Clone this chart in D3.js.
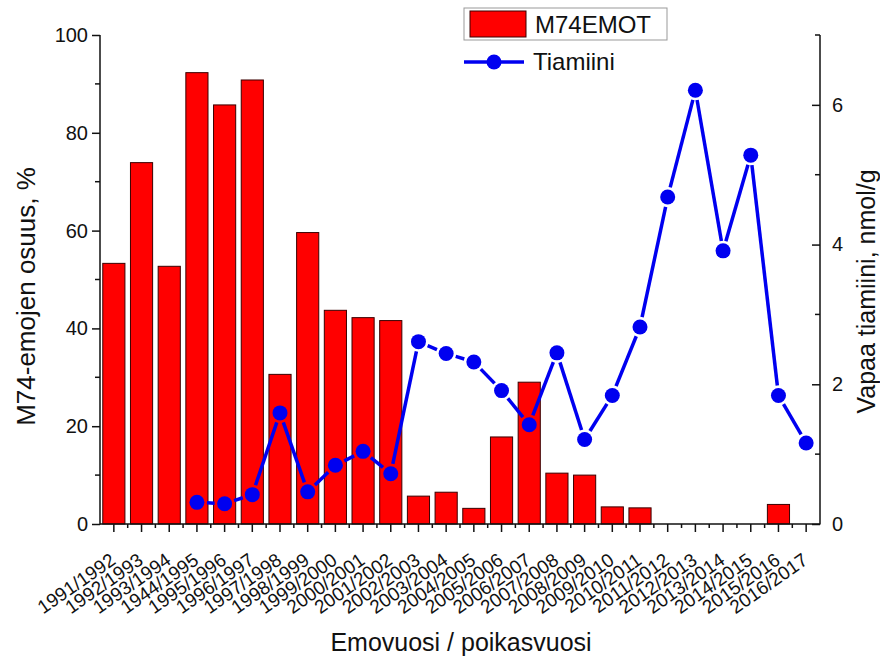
<!DOCTYPE html>
<html>
<head>
<meta charset="utf-8">
<script src="https://cdn.jsdelivr.net/npm/d3@7/dist/d3.min.js"></script>
<style>
  body { margin: 0; background: #fff; }
  svg { font-family: "Liberation Sans", Arial, sans-serif; }
</style>
</head>
<body>
<div id="chart"></div>
<script>
// data
const years = ["1991/1992", "1992/1993", "1993/1994", "1944/1995", "1995/1996", "1996/1997",
    "1997/1998", "1998/1999", "1999/2000", "2000/2001", "2001/2002", "2002/2003", "2003/2004",
    "2004/2005", "2005/2006", "2006/2007", "2007/2008", "2008/2009", "2009/2010", "2010/2011",
    "2011/2012", "2012/2013", "2013/2014", "2014/2015", "2015/2016", "2016/2017"];

// M74-emojen osuus, % (null = no bar)
const m74 = [53.3, 73.9, 52.7, 92.3, 85.7, 90.8, 30.6, 59.6, 43.7, 42.2, 41.6, 5.7, 6.5,
    3.2, 17.8, 29.0, 10.4, 10.0, 3.5, 3.3, null, null, null, null, 4.0, null];

// Vapaa tiamiini, nmol/g
const tiamiini = [null, null, null, 0.31, 0.29, 0.42, 1.59, 0.46, 0.84, 1.04, 0.72, 2.61, 2.44,
    2.32, 1.91, 1.42, 2.45, 1.21, 1.84, 2.82, 4.68, 6.21, 3.91, 5.28, 1.84, 1.16];

const leftTicks = [0, 20, 40, 60, 80, 100];
const rightTicks = [0, 2, 4, 6];

const width = 880, height = 657;
const margin = { top: 35, right: 60, bottom: 133, left: 100 };
const innerW = width - margin.left - margin.right;
const innerH = height - margin.top - margin.bottom;

const svg = d3.select("#chart")
    .append("svg")
    .attr("width", width)
    .attr("height", height);

const g = svg.append("g")
    .attr("transform", `translate(${margin.left},${margin.top})`);

const x = d3.scaleBand()
    .domain(years)
    .range([0, innerW])
    .paddingInner(0.2)
    .paddingOuter(0.1);

const xc = d => x(d) + x.bandwidth() / 2;
const step = x.step();

const yL = d3.scaleLinear().domain([0, 100]).range([innerH, 0]);
const yR = d3.scaleLinear().domain([0, 7]).range([innerH, 0]);

// bars
g.append("g")
    .selectAll("rect")
    .data(years.map((yr, i) => ({ yr, v: m74[i] })).filter(d => d.v != null))
    .join("rect")
    .attr("x", d => x(d.yr))
    .attr("y", d => yL(d.v))
    .attr("width", x.bandwidth())
    .attr("height", d => innerH - yL(d.v))
    .attr("fill", "#ff0000")
    .attr("stroke", "#3a0000")
    .attr("stroke-width", 1);

// left axis
const leftAxis = g.append("g")
    .call(d3.axisLeft(yL).tickValues(leftTicks).tickSize(8).tickPadding(4))
    .call(a => a.select(".domain").attr("d", `M0,${innerH + 0.5}V0`));
leftAxis.selectAll("text").attr("font-size", 20).attr("fill", "#111");
leftAxis.selectAll("line, path").attr("stroke", "#111").attr("stroke-width", 1.5);
g.append("g")
    .selectAll("line")
    .data(d3.range(10, 100, 20))
    .join("line")
    .attr("x1", -5).attr("x2", 0)
    .attr("y1", d => yL(d)).attr("y2", d => yL(d))
    .attr("stroke", "#111").attr("stroke-width", 1.5);

// right axis
const rightAxis = g.append("g")
    .attr("transform", `translate(${innerW},0)`)
    .call(d3.axisRight(yR).tickValues(rightTicks).tickFormat(d3.format("d")).tickSize(-8).tickPadding(12))
    .call(a => a.select(".domain").attr("d", `M0,${innerH + 0.5}V0`));
rightAxis.selectAll("text").attr("font-size", 20).attr("fill", "#111");
rightAxis.selectAll("line, path").attr("stroke", "#111").attr("stroke-width", 1.5);
g.append("g")
    .attr("transform", `translate(${innerW},0)`)
    .selectAll("line")
    .data([1, 3, 5, 7])
    .join("line")
    .attr("x1", -5).attr("x2", 0)
    .attr("y1", d => yR(d)).attr("y2", d => yR(d))
    .attr("stroke", "#111").attr("stroke-width", 1.5);

// bottom axis
const bottomAxis = g.append("g")
    .attr("transform", `translate(0,${innerH})`)
    .call(d3.axisBottom(x).tickSize(8).tickPadding(4))
    .call(a => a.select(".domain").attr("d", `M0,0H${innerW}`));
bottomAxis.selectAll("line, path").attr("stroke", "#111").attr("stroke-width", 1.5);
bottomAxis.selectAll("text")
    .attr("font-size", 19)
    .attr("fill", "#111")
    .attr("text-anchor", "end")
    .attr("dy", 0)
    .attr("y", 0)
    .attr("transform", "translate(3,39) rotate(-35)");
g.append("g")
    .attr("transform", `translate(0,${innerH})`)
    .selectAll("line")
    .data(d3.range(1, years.length))
    .join("line")
    .attr("x1", d => d * step).attr("x2", d => d * step)
    .attr("y1", 0).attr("y2", 4)
    .attr("stroke", "#111").attr("stroke-width", 1.5);

// tiamiini line: segments with a gap at each symbol
const pts = years.map((yr, i) => ({ x: xc(yr), y: tiamiini[i] == null ? null : yR(tiamiini[i]) }))
    .filter(d => d.y != null);
const gap = 10;
const segs = d3.pairs(pts).map(([a, b]) => {
    const dx = b.x - a.x, dy = b.y - a.y, L = Math.hypot(dx, dy);
    const ux = dx / L, uy = dy / L;
    return { x1: a.x + ux * gap, y1: a.y + uy * gap, x2: b.x - ux * gap, y2: b.y - uy * gap };
});
const blue = "#0000f0";
g.append("g")
    .selectAll("line")
    .data(segs)
    .join("line")
    .attr("x1", d => d.x1).attr("y1", d => d.y1)
    .attr("x2", d => d.x2).attr("y2", d => d.y2)
    .attr("stroke", blue)
    .attr("stroke-width", 3.5);
g.append("g")
    .selectAll("circle")
    .data(pts)
    .join("circle")
    .attr("cx", d => d.x)
    .attr("cy", d => d.y)
    .attr("r", 7.5)
    .attr("fill", blue);

// axis titles
svg.append("text")
    .attr("transform", `translate(35,${margin.top + innerH / 2 + 17}) rotate(-90)`)
    .attr("text-anchor", "middle")
    .attr("font-size", 26)
    .attr("fill", "#111")
    .text("M74-emojen osuus, %");

svg.append("text")
    .attr("transform", `translate(875,${margin.top + innerH / 2 + 12}) rotate(-90)`)
    .attr("text-anchor", "middle")
    .attr("font-size", 25)
    .attr("fill", "#111")
    .text("Vapaa tiamiini, nmol/g");

svg.append("text")
    .attr("x", 461)
    .attr("y", 651)
    .attr("text-anchor", "middle")
    .attr("font-size", 25)
    .attr("fill", "#111")
    .text("Emovuosi / poikasvuosi");

// legend
const legend = svg.append("g");
legend.append("rect")
    .attr("x", 464).attr("y", 8)
    .attr("width", 203).attr("height", 32)
    .attr("fill", "#fff")
    .attr("stroke", "#999")
    .attr("stroke-width", 1);
legend.append("rect")
    .attr("x", 470).attr("y", 11)
    .attr("width", 56).attr("height", 26)
    .attr("fill", "#ff0000")
    .attr("stroke", "#3a0000");
legend.append("text")
    .attr("x", 535).attr("y", 33)
    .attr("font-size", 24)
    .attr("fill", "#111")
    .text("M74EMOT");
legend.append("line")
    .attr("x1", 464).attr("x2", 524)
    .attr("y1", 62).attr("y2", 62)
    .attr("stroke", blue).attr("stroke-width", 3.5);
legend.append("circle")
    .attr("cx", 494).attr("cy", 62).attr("r", 7.5)
    .attr("fill", blue);
legend.append("text")
    .attr("x", 533).attr("y", 70)
    .attr("font-size", 24)
    .attr("fill", "#111")
    .text("Tiamiini");
</script>
</body>
</html>
